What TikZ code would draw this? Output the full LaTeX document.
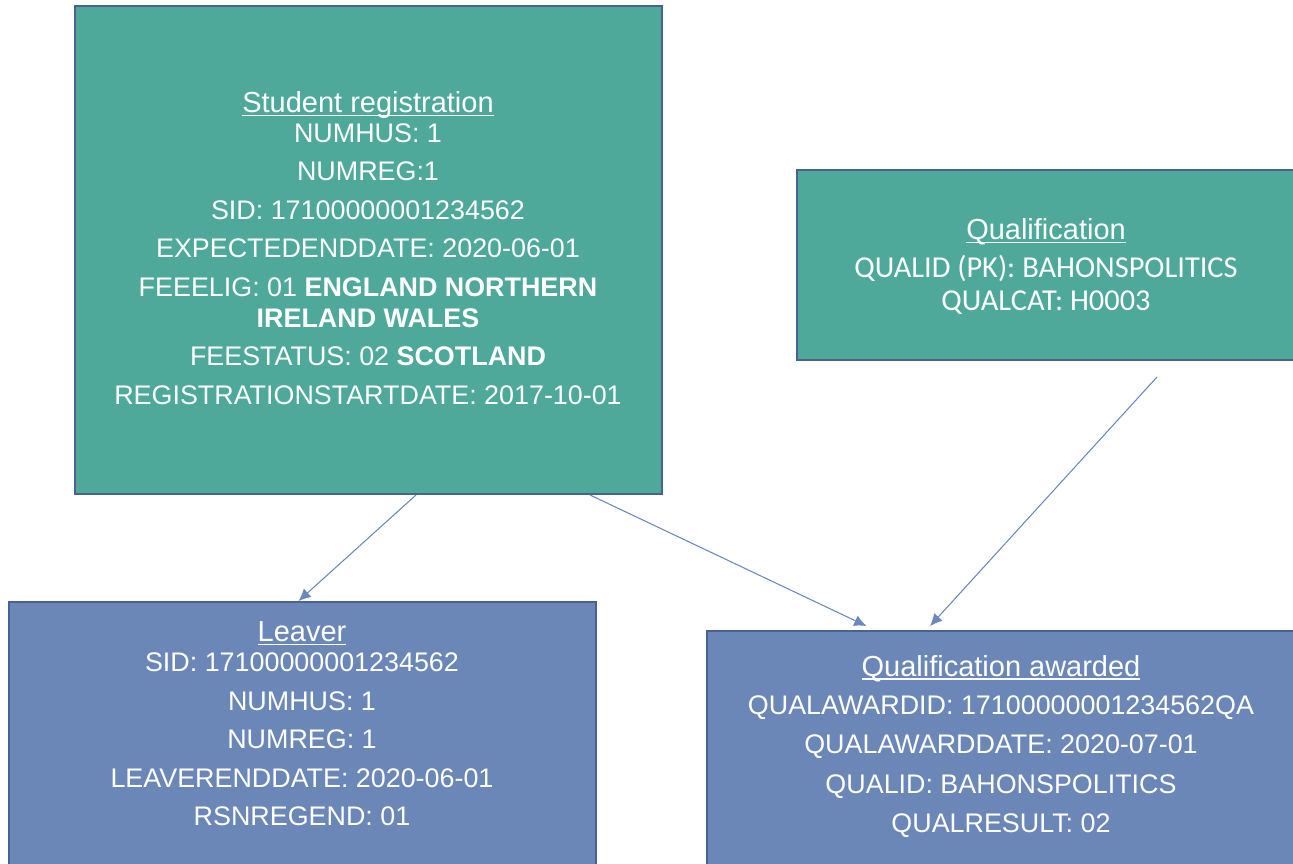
\documentclass[tikz,border=0pt]{standalone}
\usepackage{fontspec}
\setmainfont{Liberation Sans}
\newfontfamily\calfont{Carlito}
\usepackage{tikz}
\usetikzlibrary{calc, positioning, arrows.meta}

\definecolor{tealbox}{HTML}{4EA99A}
\definecolor{bluebox}{HTML}{6A87B8}
\definecolor{boxline}{HTML}{4B6291}
\definecolor{arrowline}{HTML}{6A88BA}

\tikzset{
  entity/.style={draw=boxline, line width=1.1pt, rectangle, inner sep=0pt},
  fields/.style={text=white, align=center, font=\fontsize{15.3}{17.5}\selectfont},
  link/.style={draw=arrowline, line width=0.6pt, -{Latex[length=7pt,width=6.5pt]}}
}

% underlined box title
\newcommand{\heading}[1]{{\normalfont\fontsize{16.5}{18}\selectfont
  \setbox0\hbox{#1}\rlap{\usebox0}\rule[-2pt]{\wd0}{0.9pt}}}

\begin{document}
\begin{tikzpicture}[x=0.02cm, y=-0.02cm]
  \useasboundingbox (0,0) rectangle (1293,863);
  \clip (0,0) rectangle (1293,863);
  % boxes
  \node (student) at (368.5,250) [entity, fill=tealbox, minimum width=587*0.02cm, minimum height=488*0.02cm] {};
  \node (qual) at (1058.5,265) [entity, fill=tealbox, minimum width=523*0.02cm, minimum height=190*0.02cm] {};
  \node (leaver) at (302.5,751) [entity, fill=bluebox, minimum width=587*0.02cm, minimum height=298*0.02cm] {};
  \node (awarded) at (1013.5,765.5) [entity, fill=bluebox, minimum width=613*0.02cm, minimum height=269*0.02cm] {};
  % texts
  \node (studenttext) at (368,248) [fields] {\heading{Student registration}\\[-0.5pt]
    NUMHUS: 1\\[4.4pt] NUMREG:1\\[4.4pt] SID: 17100000001234562\\[4.4pt]
    EXPECTEDENDDATE: 2020-06-01\\[4.4pt]
    FEEELIG: 01 \textbf{ENGLAND NORTHERN}\\ \textbf{IRELAND WALES}\\[4.4pt]
    FEESTATUS: 02 \textbf{SCOTLAND}\\[4.4pt]
    REGISTRATIONSTARTDATE: 2017-10-01};
  \node (qualtext) at (1046,266.5) [fields, font=\calfont\fontsize{17.3}{18.8}\selectfont] {\heading{Qualification}\\[2.3pt]
    QUALID (PK): BAHONSPOLITICS\\
    QUALCAT: H0003};
  \node (leavertext) at (302,724) [fields] {\heading{Leaver}\\[-0.5pt]
    SID: 17100000001234562\\[4.4pt] NUMHUS: 1\\[4.4pt] NUMREG: 1\\[4.4pt]
    LEAVERENDDATE: 2020-06-01\\[4.4pt] RSNREGEND: 01};
  \node (awardedtext) at (1001,746.5) [fields] {\heading{Qualification awarded}\\[4pt]
    QUALAWARDID: 17100000001234562QA\\[4.9pt]
    QUALAWARDDATE: 2020-07-01\\[4.9pt]
    QUALID: BAHONSPOLITICS\\[4.9pt] QUALRESULT: 02};
  % links
  \draw [link] ($(student.south)+(47.5,0)$) -- ($(leaver.north)+(-4,0)$);
  \draw [link] ($(student.south)+(221.5,0)$) -- ($(awarded.north)+(-147,-4)$);
  \draw [link] ($(qual.south)+(98.5,16)$) -- ($(awarded.north)+(-83.5,-4)$);
\end{tikzpicture}
\end{document}
